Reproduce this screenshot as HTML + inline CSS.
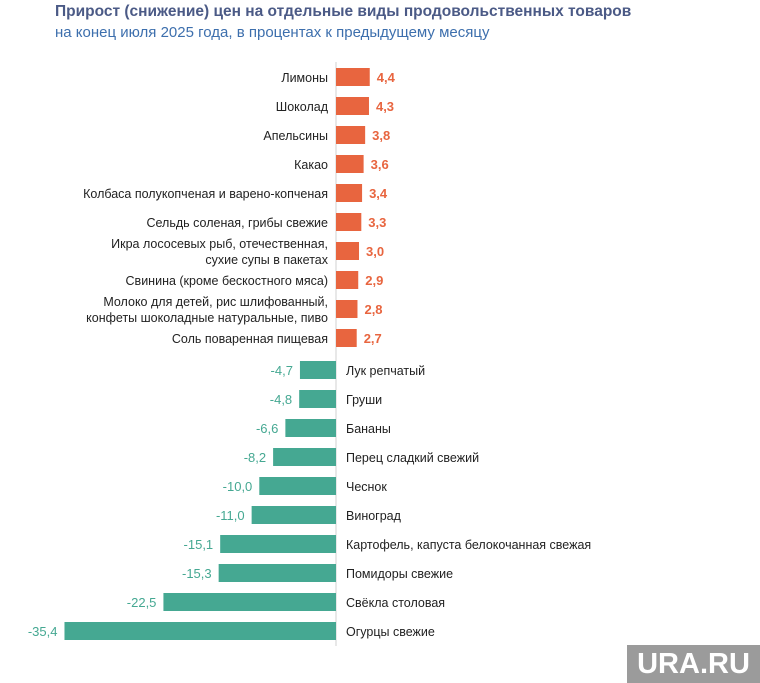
<!DOCTYPE html>
<html><head><meta charset="utf-8"><style>
body{margin:0;background:#fff;width:760px;height:683px;overflow:hidden;position:relative;font-family:"Liberation Sans",sans-serif}
.t1{position:absolute;left:55px;top:3px;font-size:15.5px;font-weight:bold;color:#4b5a86}
.t2{position:absolute;left:55px;top:24px;font-size:15px;color:#3d6fad}
.wm{position:absolute;left:627px;top:645px;width:133px;height:38px;background:#9b9b9b;color:#fff;font-weight:bold;font-size:29px;line-height:38px;text-align:center}
</style></head><body>
<div class="t1">Прирост (снижение) цен на отдельные виды продовольственных товаров</div>
<div class="t2">на конец июля 2025 года, в процентах к предыдущему месяцу</div>
<svg width="760" height="683" style="position:absolute;left:0;top:0" font-family="Liberation Sans, sans-serif">
<line x1="336" y1="62" x2="336" y2="646" stroke="#d0d0d0" stroke-width="1"/>
<g id="g"></g>
</svg>
<div class="wm">URA.RU</div>
<script>
var pos=[["Лимоны",4.4],["Шоколад",4.3],["Апельсины",3.8],["Какао",3.6],["Колбаса полукопченая и варено-копченая",3.4],["Сельдь соленая, грибы свежие",3.3],["Икра лососевых рыб, отечественная,|сухие супы в пакетах",3.0],["Свинина (кроме бескостного мяса)",2.9],["Молоко для детей, рис шлифованный,|конфеты шоколадные натуральные, пиво",2.8],["Соль поваренная пищевая",2.7]];
var neg=[["Лук репчатый",-4.7],["Груши",-4.8],["Бананы",-6.6],["Перец сладкий свежий",-8.2],["Чеснок",-10.0],["Виноград",-11.0],["Картофель, капуста белокочанная свежая",-15.1],["Помидоры свежие",-15.3],["Свёкла столовая",-22.5],["Огурцы свежие",-35.4]];
var s='',k=7.67,z=336;
function f(v){return v.toFixed(1).replace('.',',');}
pos.forEach(function(d,i){var c=77+29*i,w=d[1]*k;
s+='<rect x="'+z+'" y="'+(c-9)+'" width="'+w+'" height="18" fill="#e8653f"/>';
s+='<text x="'+(z+w+7)+'" y="'+(c+5)+'" font-size="13" font-weight="bold" fill="#e8653f">'+f(d[1])+'</text>';
var L=d[0].split('|');
L.forEach(function(t,j){var y=c+5+(L.length==2?(j==0?-8:8):0);s+='<text x="'+(z-8)+'" y="'+y+'" font-size="12.5" text-anchor="end" fill="#222">'+t+'</text>';});
});
neg.forEach(function(d,i){var c=370+29*i,w=-d[1]*k;
s+='<rect x="'+(z-w)+'" y="'+(c-9)+'" width="'+w+'" height="18" fill="#45a892"/>';
s+='<text x="'+(z-w-7)+'" y="'+(c+5)+'" font-size="13" text-anchor="end" fill="#45a892">'+f(d[1])+'</text>';
s+='<text x="'+(z+10)+'" y="'+(c+5)+'" font-size="12.5" fill="#222">'+d[0]+'</text>';
});
document.getElementById('g').innerHTML=s;
</script>
</body></html>
